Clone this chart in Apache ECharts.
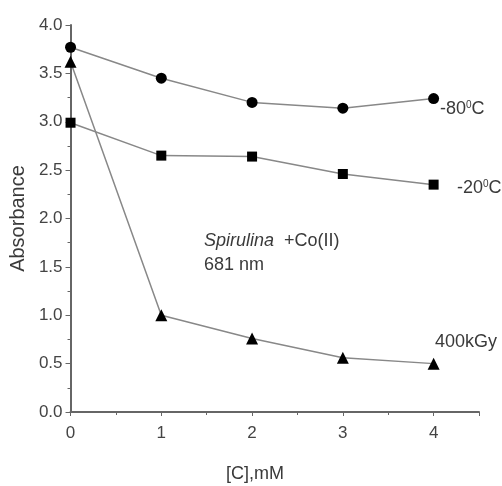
<!DOCTYPE html>
<html>
<head>
<meta charset="utf-8">
<script src="https://cdn.jsdelivr.net/npm/echarts@6/dist/echarts.min.js"></script>
<style>
  html, body { margin: 0; padding: 0; background: #fff; }
  #chart { width: 502px; height: 486px; }
</style>
</head>
<body>
<div id="chart"></div>
<script>
// concentration, mM
var conc = [0, 1, 2, 3, 4];
// absorbance at 681 nm
var minus80 = [3.77, 3.45, 3.20, 3.14, 3.24];
var minus20 = [2.99, 2.65, 2.64, 2.46, 2.35];
var kGy400 = [3.62, 1.00, 0.76, 0.56, 0.50];

function pairs(ys) {
  return conc.map(function (c, i) { return [c, ys[i]]; });
}

var chartDom = document.getElementById('chart');
var myChart = echarts.init(chartDom);
var font = 'Liberation Sans, Arial, sans-serif';
var axisGray = '#666';
var txt = '#3a3a3a';

var option = {
  animation: false,
  textStyle: { fontFamily: font },
  grid: { left: 70, top: 25, right: 23, bottom: 74, containLabel: false },
  xAxis: {
    type: 'value',
    min: 0,
    max: 4.5,
    interval: 1,
    axisLine: { lineStyle: { color: axisGray, width: 2 } },
    axisTick: { show: true, length: 4, lineStyle: { color: axisGray } },
    minorTick: { show: true, splitNumber: 2, length: 3, lineStyle: { color: axisGray } },
    splitLine: { show: false },
    axisLabel: {
      fontSize: 17, color: '#444', margin: 13, fontFamily: font,
      formatter: function (v) { return v > 4 ? '' : v; }
    }
  },
  yAxis: {
    type: 'value',
    min: 0,
    max: 4,
    interval: 0.5,
    name: 'Absorbance',
    nameLocation: 'middle',
    nameRotate: 90,
    nameGap: 40,
    nameTextStyle: { fontSize: 20, color: txt, fontFamily: font },
    axisLine: { show: true, lineStyle: { color: axisGray, width: 2 } },
    axisTick: { show: true, length: 5, lineStyle: { color: axisGray } },
    minorTick: { show: true, splitNumber: 2, length: 3, lineStyle: { color: axisGray } },
    splitLine: { show: false },
    axisLabel: {
      fontSize: 17, color: '#444', margin: 8, fontFamily: font,
      formatter: function (v) { return v.toFixed(1); }
    }
  },
  series: [
    {
      name: '-80°C',
      type: 'line',
      data: pairs(minus80),
      symbol: 'circle',
      symbolSize: 11,
      itemStyle: { color: '#000' },
      lineStyle: { color: '#888', width: 1.5 }
    },
    {
      name: '-20°C',
      type: 'line',
      data: pairs(minus20),
      symbol: 'rect',
      symbolSize: 10,
      itemStyle: { color: '#000' },
      lineStyle: { color: '#888', width: 1.5 }
    },
    {
      name: '400kGy',
      type: 'line',
      data: pairs(kGy400),
      symbol: 'triangle',
      symbolSize: 12,
      itemStyle: { color: '#000' },
      lineStyle: { color: '#888', width: 1.5 }
    }
  ],
  graphic: [
    {
      type: 'text', left: 440, top: 100,
      style: {
        text: '-80{sup|0}C', fontSize: 18, fill: txt, fontFamily: font,
        rich: { sup: { fontSize: 10, verticalAlign: 'top', padding: [0, 0, 9, 0] } }
      }
    },
    {
      type: 'text', left: 457, top: 179,
      style: {
        text: '-20{sup|0}C', fontSize: 18, fill: txt, fontFamily: font,
        rich: { sup: { fontSize: 10, verticalAlign: 'top', padding: [0, 0, 9, 0] } }
      }
    },
    {
      type: 'text', left: 435, top: 333,
      style: { text: '400kGy', fontSize: 18, fill: txt, fontFamily: font }
    },
    {
      type: 'text', left: 204, top: 232,
      style: {
        text: '{i|Spirulina}  +Co(II)', fontSize: 18, fill: txt, fontFamily: font,
        rich: { i: { fontStyle: 'italic', fontSize: 18, fontFamily: font } }
      }
    },
    {
      type: 'text', left: 204, top: 256,
      style: { text: '681 nm', fontSize: 18, fill: txt, fontFamily: font }
    },
    {
      type: 'text', left: 226, top: 465,
      style: { text: '[C],mM', fontSize: 18, fill: txt, fontFamily: font }
    }
  ]
};

option && myChart.setOption(option);
</script>
</body>
</html>
